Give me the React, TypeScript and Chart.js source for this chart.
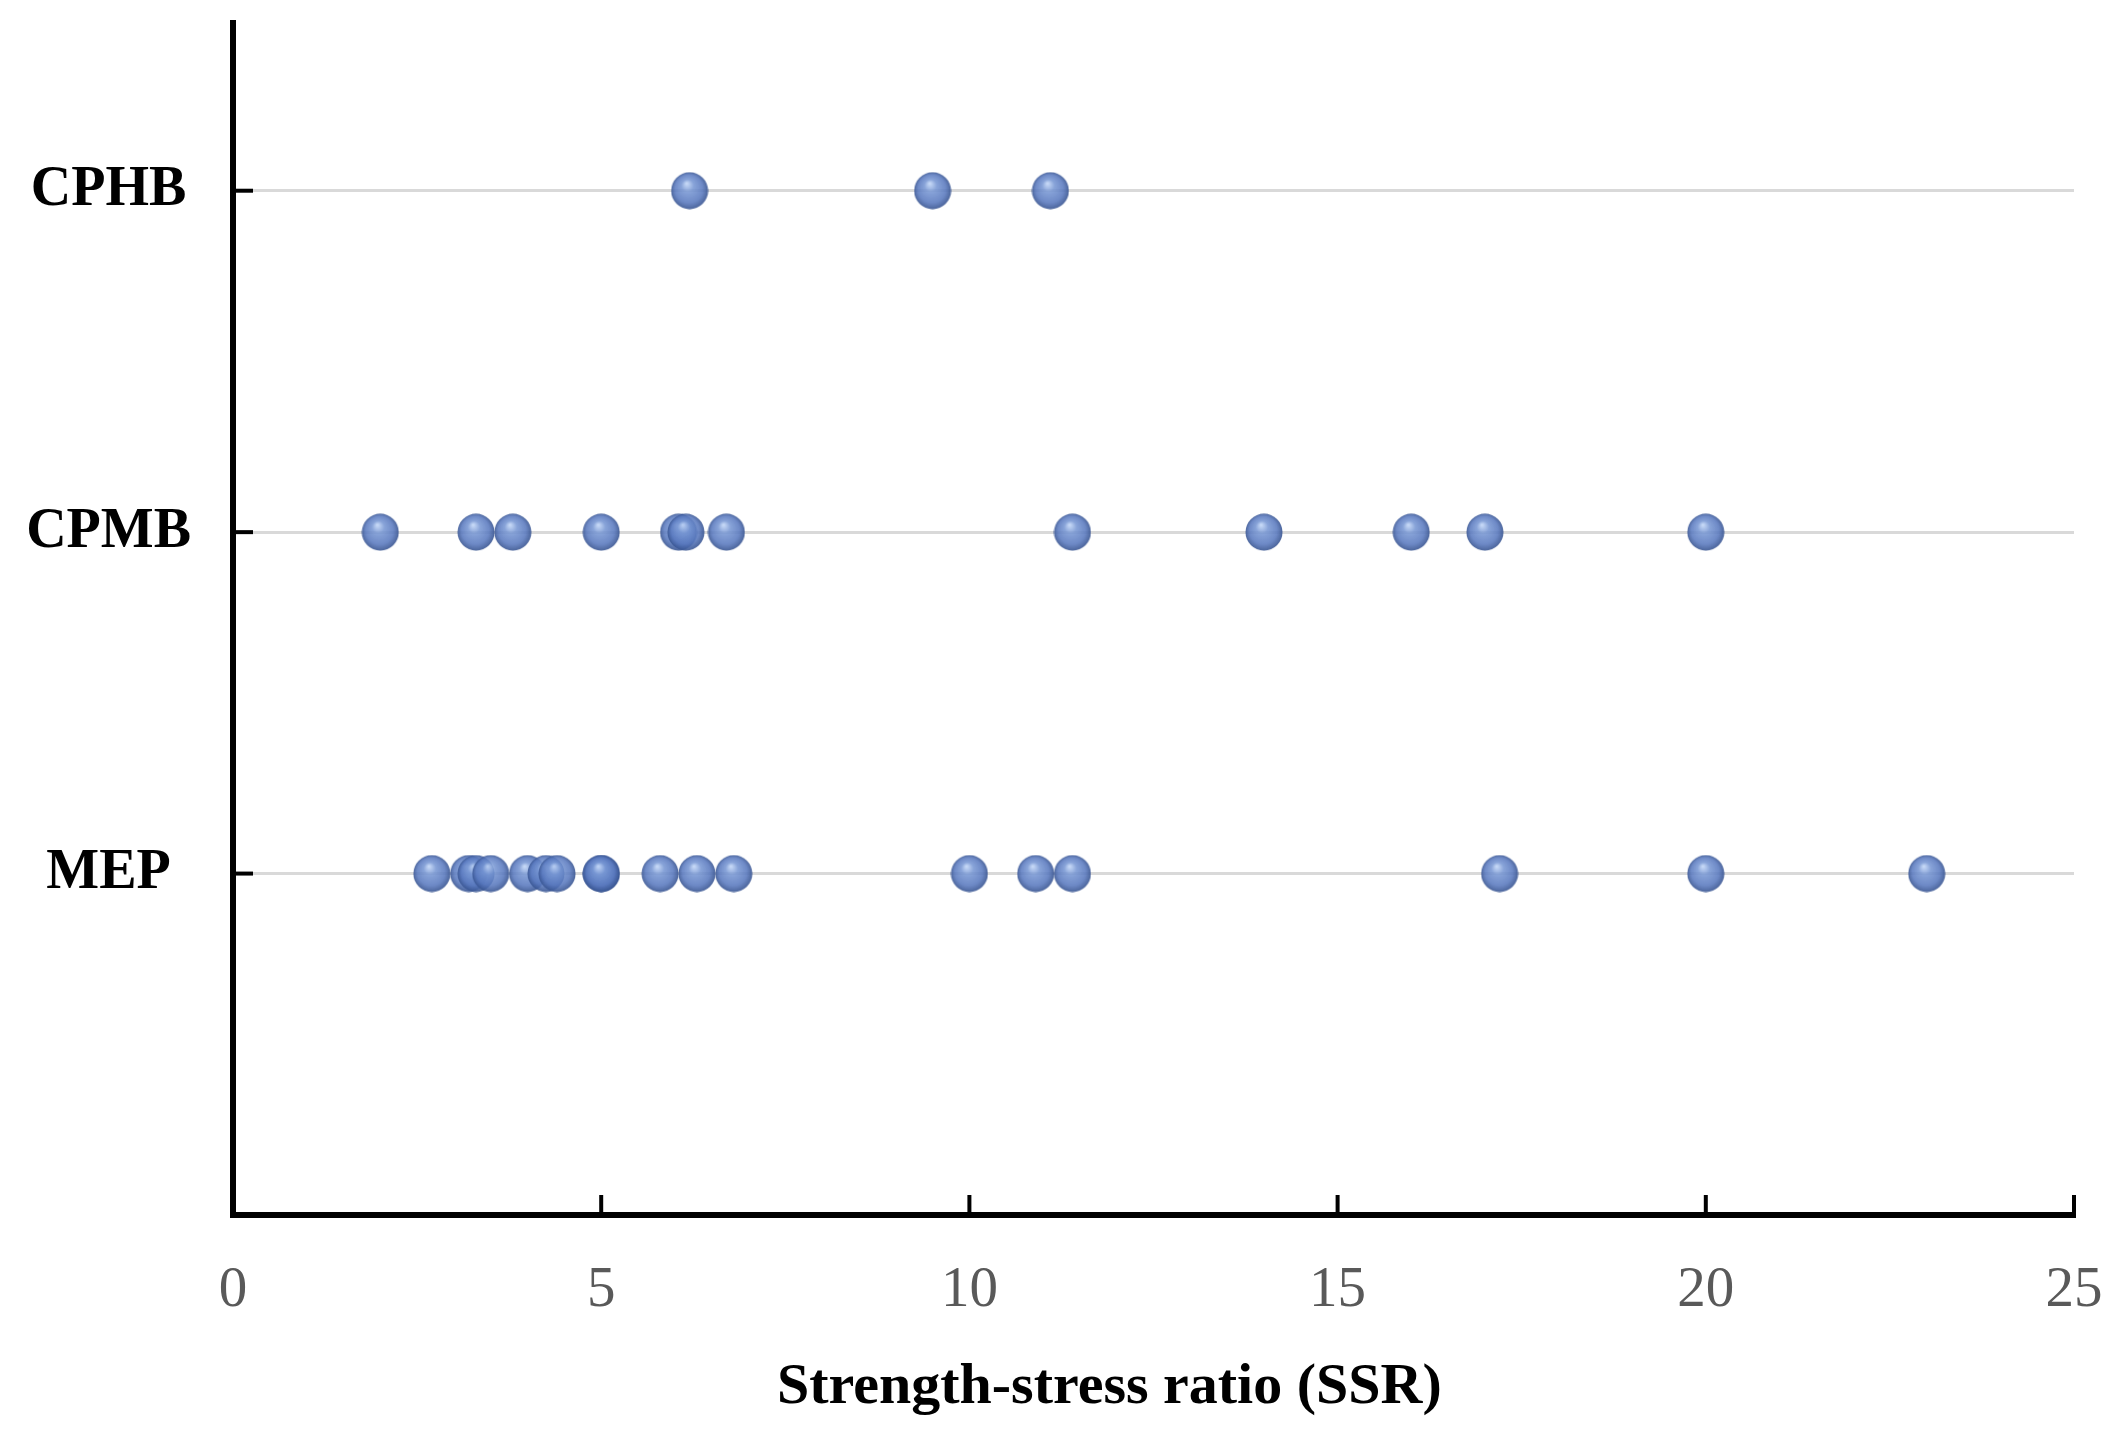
import React, { useEffect, useRef } from "react";
import { Chart, registerables } from "chart.js";

Chart.register(...registerables);

const categories = ["MEP", "CPMB", "CPHB"];
const mepValues = [2.7, 3.2, 3.3, 3.5, 4.0, 4.25, 4.4, 5.0, 5.0, 5.8, 6.3, 6.8, 10.0, 10.9, 11.4, 17.2, 20.0, 23.0];
const cpmbValues = [2.0, 3.3, 3.8, 5.0, 6.05, 6.15, 6.7, 11.4, 14.0, 16.0, 17.0, 20.0];
const cphbValues = [6.2, 9.5, 11.1];
const xTickValues = [0, 5, 10, 15, 20, 25];
const xTitle = "Strength-stress ratio (SSR)";

const FONT = '"Liberation Serif", "Times New Roman", serif';

function makeSphere(d: number): HTMLCanvasElement {
  const c = document.createElement("canvas");
  c.width = d;
  c.height = d;
  const g = c.getContext("2d")!;
  const r = d / 2;
  const grad = g.createRadialGradient(r * 0.85, r * 0.62, r * 0.04, r, r, r);
  grad.addColorStop(0, "rgba(186,208,244,0.86)");
  grad.addColorStop(0.3, "rgba(116,148,210,0.86)");
  grad.addColorStop(0.72, "rgba(88,120,190,0.87)");
  grad.addColorStop(1, "rgba(52,80,140,0.9)");
  g.fillStyle = grad;
  g.beginPath();
  g.arc(r, r, r - 0.5, 0, Math.PI * 2);
  g.fill();
  return c;
}

const axesPlugin = {
  id: "axesLines",
  afterDraw(chart: any) {
    const { ctx, chartArea, scales } = chart;
    const xs = scales.x;
    const ys = scales.y;
    ctx.save();
    ctx.strokeStyle = "#000";
    ctx.lineCap = "butt";
    ctx.lineWidth = 6;
    ctx.beginPath();
    ctx.moveTo(chartArea.left, chartArea.top);
    ctx.lineTo(chartArea.left, chartArea.bottom + 3);
    ctx.stroke();
    ctx.beginPath();
    ctx.moveTo(chartArea.left - 3, chartArea.bottom);
    ctx.lineTo(chartArea.right + 2, chartArea.bottom);
    ctx.stroke();
    ctx.lineWidth = 4;
    xTickValues.forEach((v) => {
      if (v === 0) return;
      const px = xs.getPixelForValue(v);
      ctx.beginPath();
      ctx.moveTo(px, chartArea.bottom);
      ctx.lineTo(px, chartArea.bottom - 20);
      ctx.stroke();
    });
    categories.forEach((_, i) => {
      const py = ys.getPixelForValue(i + 1);
      ctx.beginPath();
      ctx.moveTo(chartArea.left, py);
      ctx.lineTo(chartArea.left + 20, py);
      ctx.stroke();
    });
    ctx.fillStyle = "#000";
    ctx.font = `bold 58px ${FONT}`;
    ctx.textAlign = "center";
    ctx.textBaseline = "alphabetic";
    const tx = chartArea.left + (chartArea.right - chartArea.left) * 0.476;
    ctx.fillText(xTitle, tx, chartArea.bottom + 188);
    ctx.restore();
  },
};

export default function App() {
  const canvasRef = useRef<HTMLCanvasElement | null>(null);

  useEffect(() => {
    if (!canvasRef.current) return;
    const sphere = makeSphere(38);
    const mk = (label: string, vals: number[], yv: number) => ({
      label,
      data: vals.map((x) => ({ x, y: yv })),
      pointStyle: sphere as any,
      pointRadius: 19,
      pointHoverRadius: 19,
      showLine: false,
    });
    const chart = new Chart(canvasRef.current, {
      type: "scatter",
      data: {
        datasets: [
          mk(categories[0], mepValues, 1),
          mk(categories[1], cpmbValues, 2),
          mk(categories[2], cphbValues, 3),
        ],
      },
      options: {
        animation: false,
        responsive: true,
        maintainAspectRatio: false,
        devicePixelRatio: 1,
        layout: { padding: { top: 20, right: 54, left: 0, bottom: 0 } },
        plugins: { legend: { display: false }, tooltip: { enabled: false } },
        scales: {
          x: {
            type: "linear",
            min: 0,
            max: 25,
            afterBuildTicks: (s: any) => {
              s.ticks = xTickValues.map((v) => ({ value: v }));
            },
            grid: { display: false, drawTicks: false },
            border: { display: false },
            ticks: {
              padding: 42,
              color: "#595959",
              font: { family: FONT, size: 57 },
              maxRotation: 0,
            },
            title: { display: false },
            afterFit: (s: any) => {
              s.height = 236;
              s.paddingLeft = 0;
              s.paddingRight = 0;
            },
          },
          y: {
            type: "linear",
            min: 0,
            max: 3.5,
            afterBuildTicks: (s: any) => {
              s.ticks = categories.map((_, i) => ({ value: i + 1 }));
            },
            ticks: {
              callback: (v: any) => categories[Number(v) - 1] ?? "",
              crossAlign: "center",
              padding: 42,
              color: "#000",
              font: { family: FONT, size: 56, weight: "bold" },
            },
            grid: { color: "#d9d9d9", lineWidth: 3, drawTicks: false },
            border: { display: false },
            afterFit: (s: any) => {
              s.width = 233;
              s.paddingTop = 0;
              s.paddingBottom = 0;
            },
          },
        },
      } as any,
      plugins: [axesPlugin],
    });
    return () => chart.destroy();
  }, []);

  return (
    <div style={{ position: "absolute", left: 0, top: 0, width: 2128, height: 1451, background: "#fff" }}>
      <canvas ref={canvasRef} />
    </div>
  );
}
